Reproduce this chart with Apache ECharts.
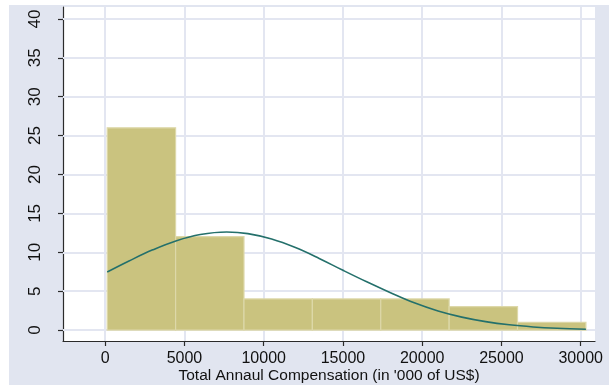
<!DOCTYPE html>
<html>
<head>
<meta charset="utf-8">
<script src="https://cdn.jsdelivr.net/npm/echarts@6/dist/echarts.min.js"></script>
<style>
  html, body { margin: 0; padding: 0; background: #ffffff; }
  #frame { position: absolute; left: 9px; top: 5px; width: 600px; height: 380px; background: #E1E5F0; }
  #chart { position: absolute; left: 0; top: 0; width: 609px; height: 385px; }
</style>
</head>
<body>
<div id="frame"></div>
<div id="chart"></div>
<script>
// Histogram bins (in '000 of US$) and frequencies
const binEdges = [125, 4440, 8755, 13070, 17385, 21700, 26015, 30330];
const counts = [26, 12, 4, 4, 4, 3, 1];

// Fitted normal curve, scaled to frequency
const curveX = [125, 1500, 3000, 4500, 6000, 7665, 9000, 10500, 12000, 13500, 15000,
                16500, 18000, 19500, 21000, 22500, 24000, 25500, 27000, 28500, 30330];
const curveY = [7.46, 8.88, 10.31, 11.49, 12.28, 12.6, 12.4, 11.7, 10.6, 9.21, 7.68,
                6.2, 4.8, 3.5, 2.45, 1.66, 1.08, 0.67, 0.4, 0.23, 0.11];

// Tick labels
const xTicks = [0, 5000, 10000, 15000, 20000, 25000, 30000];
const yTicks = [0, 5, 10, 15, 20, 25, 30, 35, 40];

const FONT = "'Liberation Sans', Arial, sans-serif";
const GRID_COLOR = '#E3E6F1';
const AXIS_COLOR = '#2b2b2b';

const chart = echarts.init(document.getElementById('chart'), null, { renderer: 'canvas' });

const bars = counts.map((c, i) => [binEdges[i], binEdges[i + 1], c]);

const option = {
  animation: false,
  backgroundColor: 'transparent',
  grid: {
    left: 63, right: 14, top: 7, bottom: 44,
    containLabel: false,
    outerBoundsMode: 'none',
    show: true, backgroundColor: '#ffffff', borderWidth: 0
  },
  xAxis: {
    type: 'value',
    min: -2664, max: 30903,
    name: "Total Annaul Compensation (in '000 of US$)",
    nameLocation: 'middle',
    nameGap: 27,
    nameMoveOverlap: false,
    nameTextStyle: { fontFamily: FONT, fontSize: 15.5, color: '#111' },
    axisLine: { show: true, onZero: false, lineStyle: { color: AXIS_COLOR, width: 1.2 } },
    axisTick: { show: true, length: 5, customValues: xTicks, lineStyle: { color: AXIS_COLOR, width: 1.2 } },
    axisLabel: { customValues: xTicks, formatter: v => String(v), fontFamily: FONT, fontSize: 16, color: '#111', margin: 10 },
    splitLine: { show: false }
  },
  yAxis: {
    type: 'value',
    min: -1.41, max: 41.54,
    axisLine: { show: true, onZero: false, lineStyle: { color: AXIS_COLOR, width: 1.2 } },
    axisTick: { show: true, length: 5, customValues: yTicks, lineStyle: { color: AXIS_COLOR, width: 1.2 } },
    axisLabel: { customValues: yTicks, formatter: v => String(v), rotate: 90, fontFamily: FONT, fontSize: 17, color: '#111', margin: 19 },
    splitLine: { show: false }
  },
  series: [
    {
      // gridlines at the tick positions
      type: 'line',
      data: [],
      z: 1,
      silent: true,
      markLine: {
        silent: true,
        z: 1,
        symbol: 'none',
        label: { show: false },
        lineStyle: { color: GRID_COLOR, width: 2, type: 'solid' },
        data: xTicks.map(v => ({ xAxis: v })).concat(yTicks.map(v => ({ yAxis: v })))
      }
    },
    {
      type: 'custom',
      z: 2,
      data: bars,
      renderItem: function (params, api) {
        const x0 = api.value(0), x1 = api.value(1), h = api.value(2);
        const p0 = api.coord([x0, h]);
        const p1 = api.coord([x1, 0]);
        return {
          type: 'rect',
          shape: { x: p0[0], y: p0[1], width: p1[0] - p0[0], height: p1[1] - p0[1] },
          style: { fill: '#CAC37F', stroke: '#DDD8A9', lineWidth: 1.2 }
        };
      }
    },
    {
      type: 'line',
      z: 3,
      smooth: 0.4,
      showSymbol: false,
      data: curveX.map((x, i) => [x, curveY[i]]),
      lineStyle: { color: '#24706B', width: 1.6 }
    }
  ]
};

chart.setOption(option);
</script>
</body>
</html>
